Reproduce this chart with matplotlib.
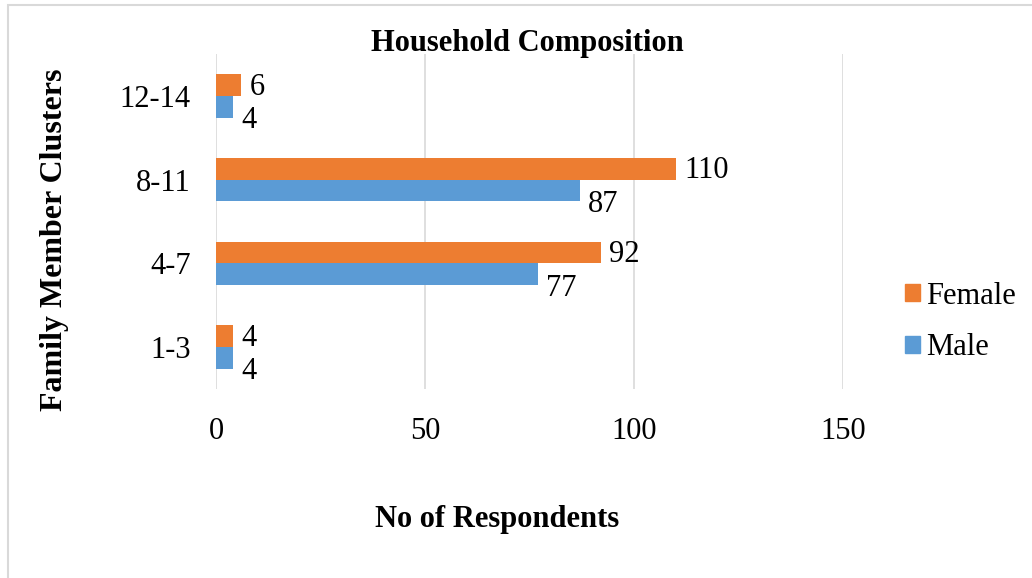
import matplotlib.pyplot as plt
import numpy as np
from matplotlib.patches import Rectangle, Patch

# data
categories = ['1-3', '4-7', '8-11', '12-14']
female = [4, 92, 110, 6]
male = [4, 77, 87, 4]
xticks = [0, 50, 100, 150]

orange = '#ED7D31'
blue = '#5B9BD5'
grid_col = '#d9d9d9'

plt.rcParams['font.family'] = ['Liberation Serif', 'DejaVu Serif']

W, H = 1032, 578
fig = plt.figure(figsize=(W / 100, H / 100), dpi=100)
# plot area in pixel coords: x 216..843, y 54..389
ax = fig.add_axes([216 / W, 1 - 389 / H, (843 - 216) / W, (389 - 54) / H])

y = np.arange(len(categories))
h = 0.26
ax.barh(y + h / 2, female, height=h, color=orange, label='Female', zorder=3)
ax.barh(y - h / 2, male, height=h, color=blue, label='Male', zorder=3)

# value labels: female near the bar centre, male below it (Excel style)
for yi, v in zip(y, female):
    ax.annotate(str(v), (v, yi + h / 2), xytext=(6, -1.5), textcoords='offset points',
                ha='left', va='center', fontsize=22)
for yi, v in zip(y, male):
    ax.annotate(str(v), (v, yi - h / 2), xytext=(6, -10), textcoords='offset points',
                ha='left', va='center', fontsize=22)

ax.set_xlim(0, 150)
ax.set_ylim(-0.5, len(categories) - 0.5)
ax.set_xticks(xticks)
ax.set_yticks(y)
ax.set_yticklabels(categories)
ax.tick_params(axis='both', length=0, labelsize=22)
ax.tick_params(axis='x', pad=20)
ax.tick_params(axis='y', pad=18)
ax.grid(axis='x', color=grid_col, linewidth=1.2, zorder=0)
for s in ax.spines.values():
    s.set_visible(False)

fig.text(527 / W, 1 - 44 / H, 'Household Composition', ha='center', va='center',
         fontsize=22, fontweight='bold')
fig.text(497 / W, 1 - 519 / H, 'No of Respondents', ha='center', va='center',
         fontsize=22, fontweight='bold')
fig.text(55 / W, 1 - 240 / H, 'Family Member Clusters', ha='center', va='center',
         rotation=90, fontsize=23, fontweight='bold')

handles = [Patch(color=orange), Patch(color=blue)]
fig.legend(handles, ['Female', 'Male'], loc='center left',
           bbox_to_anchor=(877 / W, 1 - 322 / H), frameon=False, fontsize=22,
           handlelength=0.5, handleheight=0.5, handletextpad=0.2, labelspacing=0.75)

# outer chart border (partially visible in the reference)
fig.patches.append(Rectangle((8 / W, -0.1), 1.2, 1 - 5 / H + 0.1, transform=fig.transFigure,
                             fill=False, edgecolor=grid_col, linewidth=1.5))

fig.savefig('out.png', dpi=100)
